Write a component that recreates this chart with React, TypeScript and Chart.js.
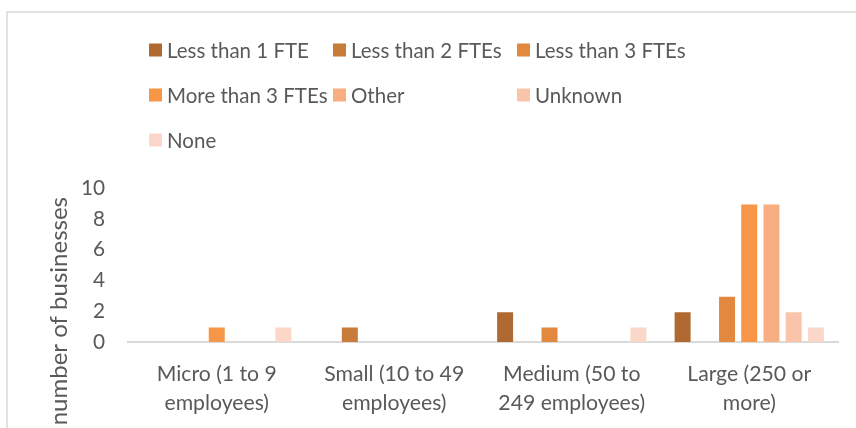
import { useEffect, useRef } from "react";
import { Chart, registerables } from "chart.js";

Chart.register(...registerables);

const categories: string[][] = [
  ["Micro (1 to 9", "employees)"],
  ["Small (10 to 49", "employees)"],
  ["Medium (50 to", "249 employees)"],
  ["Large (250 or", "more)"],
];

const seriesNames = [
  "Less than 1 FTE",
  "Less than 2 FTEs",
  "Less than 3 FTEs",
  "More than 3 FTEs",
  "Other",
  "Unknown",
  "None",
];

const lessThan1 = [0, 0, 2, 2];
const lessThan2 = [0, 1, 0, 0];
const lessThan3 = [0, 0, 1, 3];
const moreThan3 = [1, 0, 0, 9];
const other = [0, 0, 0, 9];
const unknown = [0, 0, 0, 2];
const none = [1, 0, 1, 1];

const seriesValues = [lessThan1, lessThan2, lessThan3, moreThan3, other, unknown, none];

const seriesColors = ["#B06A31", "#C97B3B", "#E2893F", "#F79646", "#F8AE80", "#F9C4A9", "#FAD7C8"];

const yMin = 0;
const yMax = 10;
const yStep = 2;
const yTitle = "number of businesses";

const FONT = "Lato";
const TEXT = "#595959";
const LEGEND_SIZE = 20.5;
const X_TICK_SIZE = 21.2;
const Y_TICK_SIZE = 20.8;
const TITLE_SIZE = 24;

const frame = {
  id: "frame",
  beforeDraw(chart: any) {
    const ctx = chart.ctx;
    ctx.save();
    ctx.fillStyle = "#ffffff";
    ctx.fillRect(0, 0, chart.width, chart.height);
    ctx.strokeStyle = "#D9D9D9";
    ctx.lineWidth = 1.5;
    ctx.strokeRect(7, 12, chart.width + 50, chart.height + 50);
    ctx.restore();
  },
};

const gridLegend = {
  id: "gridLegend",
  afterDraw(chart: any) {
    const ctx = chart.ctx;
    ctx.save();
    ctx.font = `${LEGEND_SIZE}px ${FONT}`;
    ctx.textBaseline = "middle";
    ctx.textAlign = "left";
    chart.data.datasets.forEach((ds: any, i: number) => {
      const col = i % 3;
      const row = Math.floor(i / 3);
      const x = 149 + col * 184;
      const y = 50 + row * 45;
      ctx.fillStyle = ds.backgroundColor;
      ctx.fillRect(x, y - 6.5, 13, 13);
      ctx.fillStyle = TEXT;
      ctx.fillText(ds.label, x + 18, y + 1);
    });
    ctx.restore();
  },
};

const yTitlePlugin = {
  id: "yTitlePlugin",
  afterDraw(chart: any) {
    const ctx = chart.ctx;
    ctx.save();
    ctx.font = `${TITLE_SIZE}px ${FONT}`;
    ctx.fillStyle = TEXT;
    ctx.translate(67, 197);
    ctx.rotate(-Math.PI / 2);
    ctx.textAlign = "right";
    ctx.textBaseline = "alphabetic";
    ctx.fillText(yTitle, 0, 0);
    ctx.restore();
  },
};

export default function App() {
  const ref = useRef<HTMLCanvasElement | null>(null);

  useEffect(() => {
    if (!ref.current) return;
    const chart = new Chart(ref.current, {
      type: "bar",
      data: {
        labels: categories,
        datasets: seriesNames.map((name, i) => ({
          label: name,
          data: seriesValues[i],
          backgroundColor: seriesColors[i],
          borderColor: "rgba(255,255,255,0.55)",
          borderWidth: 1,
          categoryPercentage: 0.876,
          barPercentage: 0.81,
        })),
      },
      options: {
        animation: false,
        responsive: false,
        layout: { padding: { top: 188, right: 18, left: 0, bottom: 0 } },
        plugins: {
          legend: { display: false },
          tooltip: { enabled: false },
          title: { display: false },
        },
        scales: {
          x: {
            grid: { display: false, drawTicks: false },
            border: { display: true, color: "#D9D9D9", width: 2 },
            ticks: {
              color: TEXT,
              font: { family: FONT, size: X_TICK_SIZE, lineHeight: 1.38 },
              padding: 17.5,
              autoSkip: false,
              maxRotation: 0,
              minRotation: 0,
            },
            afterFit: (scale: any) => {
              scale.height = 86;
            },
          },
          y: {
            min: yMin,
            max: yMax,
            grid: { display: false, drawTicks: false },
            border: { display: false },
            ticks: {
              stepSize: yStep,
              color: TEXT,
              font: { family: FONT, size: Y_TICK_SIZE },
              padding: 23,
            },
            afterFit: (scale: any) => {
              scale.width = 128;
            },
          },
        },
      },
      plugins: [frame, gridLegend, yTitlePlugin],
    });
    return () => chart.destroy();
  }, []);

  return (
    <div style={{ position: "fixed", left: 0, top: 0, width: 856, height: 428 }}>
      <canvas ref={ref} width={856} height={428} />
    </div>
  );
}
